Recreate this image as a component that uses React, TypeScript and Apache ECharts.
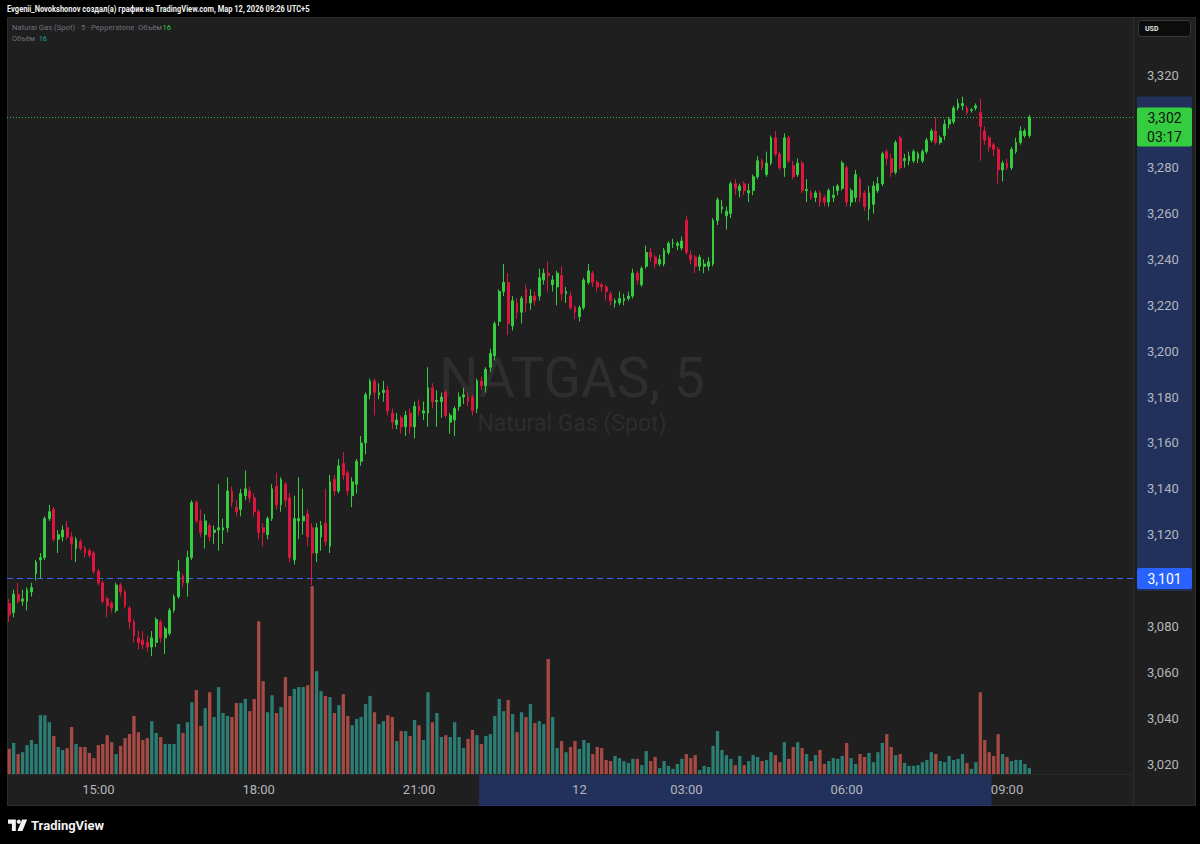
import React, { useEffect, useRef } from "react";
import * as echarts from "echarts";

// ---------------- data ----------------
const sessions: [string, number][] = [["13:20", 152], ["03:00", 101]];
const timeLabelValues = ["15:00", "18:00", "21:00", "00:00", "03:00", "06:00", "09:00"];
const dayLabels: Record<string, string> = { "00:00": "12" };
const priceTickRange = [3.02, 3.32];
const priceTickStep = 0.02;

// [open, high, low, close]
const ohlc: number[][] = [
  [3.090,3.092,3.082,3.085],[3.086,3.096,3.084,3.094],[3.094,3.099,3.090,3.091],[3.091,3.096,3.089,3.092],[3.091,3.097,3.087,3.096],
  [3.095,3.099,3.093,3.097],[3.103,3.109,3.100,3.108],[3.109,3.112,3.101,3.110],[3.110,3.128,3.109,3.127],[3.127,3.133,3.126,3.130],
  [3.131,3.132,3.117,3.118],[3.118,3.122,3.112,3.120],[3.119,3.124,3.117,3.122],[3.123,3.126,3.118,3.119],[3.119,3.121,3.109,3.116],
  [3.114,3.119,3.108,3.118],[3.117,3.118,3.113,3.114],[3.114,3.115,3.110,3.112],[3.113,3.114,3.110,3.111],[3.112,3.113,3.103,3.104],
  [3.104,3.105,3.098,3.099],[3.099,3.100,3.090,3.091],[3.092,3.093,3.084,3.089],[3.090,3.091,3.086,3.088],[3.087,3.099,3.086,3.098],
  [3.098,3.099,3.093,3.095],[3.095,3.096,3.088,3.089],[3.088,3.089,3.079,3.082],[3.082,3.083,3.073,3.076],[3.075,3.078,3.070,3.073],
  [3.074,3.078,3.070,3.072],[3.073,3.076,3.069,3.071],[3.071,3.078,3.067,3.075],[3.073,3.084,3.071,3.083],[3.082,3.083,3.073,3.075],
  [3.075,3.080,3.068,3.079],[3.077,3.088,3.076,3.087],[3.087,3.094,3.086,3.093],[3.093,3.109,3.092,3.104],[3.102,3.103,3.097,3.099],
  [3.099,3.113,3.093,3.110],[3.110,3.135,3.109,3.134],[3.134,3.135,3.125,3.126],[3.126,3.131,3.119,3.121],[3.120,3.129,3.114,3.126],
  [3.124,3.125,3.117,3.119],[3.121,3.124,3.116,3.122],[3.122,3.142,3.113,3.123],[3.122,3.127,3.116,3.123],[3.123,3.145,3.121,3.139],
  [3.139,3.141,3.132,3.134],[3.132,3.135,3.128,3.130],[3.131,3.140,3.128,3.138],[3.137,3.148,3.135,3.140],[3.139,3.141,3.134,3.136],
  [3.136,3.138,3.128,3.130],[3.130,3.131,3.118,3.121],[3.123,3.125,3.115,3.121],[3.120,3.128,3.118,3.127],[3.127,3.142,3.126,3.140],
  [3.141,3.147,3.131,3.133],[3.133,3.145,3.130,3.144],[3.142,3.143,3.132,3.135],[3.136,3.138,3.108,3.110],[3.109,3.137,3.107,3.127],
  [3.126,3.145,3.118,3.127],[3.126,3.140,3.120,3.128],[3.129,3.131,3.115,3.119],[3.123,3.125,3.098,3.112],[3.112,3.125,3.108,3.123],
  [3.119,3.126,3.113,3.124],[3.125,3.140,3.115,3.117],[3.115,3.146,3.112,3.143],[3.144,3.146,3.137,3.139],[3.139,3.153,3.138,3.150],
  [3.151,3.156,3.144,3.146],[3.147,3.148,3.137,3.139],[3.137,3.145,3.132,3.143],[3.142,3.153,3.138,3.152],[3.152,3.163,3.150,3.160],
  [3.160,3.182,3.155,3.181],[3.181,3.188,3.179,3.187],[3.187,3.188,3.172,3.182],[3.181,3.186,3.179,3.182],[3.182,3.187,3.178,3.183],
  [3.183,3.185,3.172,3.174],[3.173,3.175,3.166,3.169],[3.168,3.173,3.166,3.170],[3.171,3.172,3.164,3.167],[3.167,3.174,3.163,3.172],
  [3.173,3.175,3.164,3.167],[3.167,3.178,3.162,3.176],[3.176,3.179,3.172,3.174],[3.173,3.178,3.170,3.174],[3.173,3.193,3.167,3.184],
  [3.184,3.186,3.175,3.178],[3.178,3.183,3.167,3.1785],[3.178,3.182,3.171,3.180],[3.182,3.183,3.171,3.172],[3.169,3.173,3.164,3.172],
  [3.170,3.176,3.163,3.175],[3.176,3.182,3.174,3.180],[3.180,3.184,3.177,3.181],[3.180,3.182,3.176,3.178],[3.180,3.181,3.172,3.174],
  [3.175,3.188,3.173,3.187],[3.187,3.189,3.183,3.185],[3.185,3.193,3.182,3.192],[3.193,3.201,3.191,3.199],[3.198,3.213,3.196,3.212],
  [3.213,3.227,3.211,3.226],[3.226,3.238,3.224,3.230],[3.230,3.234,3.207,3.212],[3.211,3.224,3.209,3.222],[3.221,3.223,3.214,3.217],
  [3.217,3.224,3.212,3.223],[3.227,3.229,3.217,3.221],[3.221,3.227,3.218,3.224],[3.224,3.226,3.220,3.222],[3.224,3.236,3.222,3.232],
  [3.231,3.236,3.229,3.234],[3.234,3.239,3.226,3.233],[3.229,3.233,3.226,3.231],[3.228,3.235,3.220,3.234],[3.233,3.237,3.222,3.225],
  [3.225,3.228,3.221,3.226],[3.224,3.226,3.218,3.219],[3.219,3.220,3.214,3.217],[3.215,3.220,3.213,3.219],[3.219,3.232,3.218,3.231],
  [3.230,3.238,3.229,3.235],[3.234,3.235,3.228,3.230],[3.230,3.231,3.226,3.228],[3.229,3.230,3.226,3.228],[3.228,3.229,3.222,3.226],
  [3.225,3.226,3.220,3.222],[3.221,3.223,3.219,3.222],[3.221,3.226,3.220,3.223],[3.222,3.225,3.220,3.223],[3.223,3.226,3.222,3.224],
  [3.224,3.236,3.223,3.234],[3.234,3.235,3.229,3.231],[3.229,3.237,3.228,3.236],[3.237,3.246,3.236,3.243],[3.243,3.245,3.239,3.241],
  [3.241,3.242,3.236,3.238],[3.238,3.242,3.237,3.240],[3.238,3.245,3.237,3.244],[3.243,3.248,3.242,3.247],[3.247,3.249,3.245,3.2472],
  [3.246,3.248,3.244,3.247],[3.245,3.250,3.244,3.248],[3.257,3.259,3.242,3.243],[3.242,3.244,3.238,3.240],[3.241,3.242,3.234,3.237],
  [3.237,3.242,3.235,3.241],[3.237,3.240,3.234,3.238],[3.237,3.241,3.235,3.239],[3.238,3.258,3.237,3.257],[3.257,3.267,3.255,3.266],
  [3.262,3.266,3.260,3.263],[3.259,3.263,3.253,3.261],[3.260,3.274,3.258,3.273],[3.273,3.275,3.268,3.271],[3.270,3.273,3.267,3.272],
  [3.273,3.274,3.268,3.270],[3.269,3.273,3.265,3.270],[3.270,3.277,3.268,3.276],[3.276,3.285,3.275,3.283],[3.283,3.284,3.279,3.280],
  [3.277,3.287,3.276,3.282],[3.282,3.294,3.281,3.293],[3.293,3.296,3.285,3.286],[3.286,3.287,3.279,3.280],[3.280,3.295,3.276,3.293],
  [3.293,3.294,3.282,3.283],[3.281,3.283,3.275,3.276],[3.277,3.284,3.276,3.282],[3.282,3.283,3.269,3.270],[3.270,3.275,3.265,3.2705],
  [3.269,3.270,3.266,3.267],[3.267,3.270,3.265,3.269],[3.269,3.270,3.263,3.265],[3.267,3.268,3.263,3.265],[3.265,3.271,3.263,3.270],
  [3.267,3.272,3.265,3.268],[3.270,3.273,3.268,3.272],[3.271,3.283,3.270,3.282],[3.280,3.281,3.263,3.265],[3.265,3.271,3.263,3.270],
  [3.267,3.279,3.265,3.277],[3.275,3.276,3.265,3.267],[3.269,3.270,3.261,3.263],[3.262,3.272,3.257,3.269],[3.264,3.274,3.260,3.272],
  [3.270,3.276,3.269,3.273],[3.273,3.287,3.272,3.286],[3.287,3.288,3.281,3.284],[3.284,3.286,3.276,3.278],[3.278,3.292,3.277,3.291],
  [3.293,3.294,3.279,3.280],[3.283,3.286,3.280,3.284],[3.283,3.287,3.281,3.285],[3.283,3.288,3.282,3.287],[3.284,3.287,3.282,3.286],
  [3.283,3.288,3.282,3.287],[3.287,3.293,3.286,3.292],[3.292,3.297,3.291,3.296],[3.296,3.302,3.290,3.291],[3.291,3.294,3.290,3.293],
  [3.294,3.301,3.292,3.299],[3.299,3.302,3.297,3.301],[3.300,3.307,3.299,3.306],[3.306,3.310,3.305,3.308],[3.307,3.311,3.305,3.308],
  [3.306,3.307,3.303,3.304],[3.305,3.306,3.304,3.3052],[3.306,3.308,3.305,3.307],[3.304,3.310,3.283,3.298],[3.296,3.298,3.290,3.292],
  [3.293,3.294,3.287,3.289],[3.290,3.291,3.285,3.288],[3.288,3.289,3.273,3.279],[3.279,3.283,3.274,3.282],[3.282,3.284,3.279,3.280],
  [3.280,3.289,3.279,3.288],[3.287,3.293,3.286,3.291],[3.291,3.298,3.290,3.296],[3.294,3.297,3.293,3.296],[3.294,3.303,3.293,3.302],
];

const volume: number[] = [
  68,84,54,59,78,92,81,159,159,140,
  103,73,65,70,127,81,73,73,57,43,
  78,81,105,86,54,76,97,108,157,113,
  92,97,143,111,100,81,81,81,135,111,
  140,194,227,130,178,221,154,235,165,157,
  154,192,192,203,170,203,413,251,167,213,
  165,181,262,211,230,235,235,240,508,278,
  224,211,208,165,186,216,157,132,149,154,
  189,211,167,135,143,159,154,89,116,116,
  103,146,132,92,221,140,165,100,105,100,
  140,100,70,95,119,105,81,103,108,157,
  203,170,200,162,113,167,154,189,138,143,
  135,311,154,70,89,59,73,89,68,92,
  84,54,73,70,38,35,49,43,35,30,
  41,41,24,62,35,46,16,35,22,14,
  27,41,54,43,51,11,22,19,76,116,
  65,51,41,24,49,24,35,51,46,35,
  38,59,51,32,86,41,73,86,70,54,
  35,51,65,27,35,43,41,49,84,43,
  27,54,46,57,32,59,84,108,73,51,
  54,30,22,22,24,32,38,59,54,35,
  32,49,38,41,54,30,14,32,221,92,
  59,49,108,54,46,35,38,38,27,16,
];

const lastPrice = 3.302;
const barCountdown = "03:17";
const levelLine = 3.101;
const selectionTimes = ["22:10", "08:40"];
const selectionPrices = [3.0955, 3.311];

const headerTitle = "Evgenii_Novokshonov создал(а) график на TradingView.com, Мар 12, 2026 09:26 UTC+5";
const legendSymbol = "Natural Gas (Spot) · 5 · Pepperstone";
const volumeLabel = "Объём";
const lastVolumeText = "16";
const watermarkMain = "NATGAS, 5";
const watermarkSub = "Natural Gas (Spot)";
const currencyLabel = "USD";

// ---------------- style ----------------
const FONT = "Roboto, 'Noto Sans', sans-serif";
const UP = "#35cc3f";
const DOWN = "#dc163e";
const VOL_UP = "#2a7e74";
const VOL_DOWN = "#a64a45";
const PANE_BG = "#1f1f1f";
const AXIS_TEXT = "#b4b6bd";
const SEL = "rgba(41,98,255,0.27)";
const LEVEL_BLUE = "#3d63ff";

let logoRegistered = false;
function ensureLogo() {
  if (logoRegistered) return;
  const d = "M0 0H9V12H4.5V4.5H0Z M16.2 0H22L16.6 12H10.8Z";
  echarts.graphic.registerShape("tvlogo", echarts.graphic.extendPath(d, {}) as any);
  logoRegistered = true;
}

function buildTimes(): string[] {
  const out: string[] = [];
  for (const [start, n] of sessions) {
    const [h, m] = start.split(":").map(Number);
    for (let k = 0; k < n; k++) {
      const t = (h * 60 + m + 5 * k) % 1440;
      out.push(String(Math.floor(t / 60)).padStart(2, "0") + ":" + String(t % 60).padStart(2, "0"));
    }
  }
  return out;
}

function measure(text: string, font: string): number {
  const ctx = document.createElement("canvas").getContext("2d");
  if (!ctx) return text.length * 5;
  ctx.font = font;
  return ctx.measureText(text).width;
}

const fmtPrice = (v: number) => v.toFixed(3).replace(".", ",");
const coveredByLabel = (v: number) =>
  Math.abs(v - lastPrice) < 0.007 || Math.abs(v - levelLine) < 0.006;

export default function App() {
  const ref = useRef<HTMLDivElement>(null);

  useEffect(() => {
    if (!ref.current) return;
    ensureLogo();
    const chart = echarts.init(ref.current, undefined, { renderer: "svg" });
    const times = buildTimes();

    const candleData = ohlc.map(([o, h, l, c]) => [o, c, l, h]);
    const volData = volume.map((v, i) => ({
      value: v,
      itemStyle: { color: ohlc[i][3] >= ohlc[i][0] ? VOL_UP : VOL_DOWN },
    }));

    chart.setOption({
      animation: false,
      backgroundColor: "transparent",
      grid: [
        { left: 7, right: 66, top: 0, bottom: 34.1 },
        { left: 7, right: 66, bottom: 70, height: 250 },
      ],
      xAxis: [
        {
          type: "category", gridIndex: 0, data: times, boundaryGap: true,
          axisLine: { show: false }, axisTick: { show: false }, axisLabel: { show: false }, splitLine: { show: false },
        },
        {
          type: "category", gridIndex: 1, data: times, boundaryGap: true,
          axisLine: { show: false }, axisTick: { show: false }, splitLine: { show: false },
          axisLabel: {
            interval: (_i: number, v: string) => timeLabelValues.includes(v),
            formatter: (v: string) => dayLabels[v] ?? v,
            color: AXIS_TEXT, fontSize: 13, fontFamily: FONT, margin: 9,
          },
        },
      ],
      yAxis: [
        {
          type: "value", gridIndex: 0, position: "right", min: 3.0, max: 3.3531, interval: priceTickStep,
          axisLine: { show: false }, axisTick: { show: false }, splitLine: { show: false },
          axisLabel: {
            formatter: (v: number) =>
              v < priceTickRange[0] - 1e-6 || v > priceTickRange[1] + 1e-6 || coveredByLabel(v) ? "" : fmtPrice(v),
            color: AXIS_TEXT, fontSize: 13, fontFamily: FONT, margin: 13, align: "left",
            showMaxLabel: false,
          },
        },
        { type: "value", gridIndex: 1, min: 0, max: 676, show: false, splitLine: { show: false } },
      ],
      series: [
        {
          type: "bar", xAxisIndex: 1, yAxisIndex: 1, data: volData, barWidth: 3.3, z: 1, silent: true,
        },
        {
          type: "candlestick", xAxisIndex: 0, yAxisIndex: 0, data: candleData, barWidth: 2.4, z: 3, silent: true,
          itemStyle: { color: UP, color0: DOWN, borderColor: UP, borderColor0: DOWN, borderWidth: 1 },
        },
      ],
    });

    const px = (i: number) => chart.convertToPixel({ xAxisIndex: 1 }, i) as number;
    const py = (v: number) => chart.convertToPixel({ yAxisIndex: 0 }, v) as number;
    const band = px(1) - px(0);
    const s0 = times.indexOf(selectionTimes[0]);
    const s1 = times.indexOf(selectionTimes[1]);
    const selX0 = px(s0) - band / 2;
    const selX1 = px(s1) + band / 2;
    const selY0 = py(selectionPrices[1]);
    const selY1 = py(selectionPrices[0]);
    const lpY = Math.round(py(lastPrice)) + 0.5;
    const lvY = Math.round(py(levelLine)) + 0.5;

    const hFont = `bold 9px ${FONT}`;
    const hScale = 303 / measure(headerTitle, hFont);
    const l2Text = `${legendSymbol}  ${volumeLabel}${lastVolumeText}`;
    const l2Scale = 159 / measure(l2Text, `8px ${FONT}`);
    const l3Text = `${volumeLabel}  ${lastVolumeText}`;
    const l3Scale = 35 / measure(l3Text, `8px ${FONT}`);

    const center = { align: "center", verticalAlign: "middle", textAlign: "center", textVerticalAlign: "middle" };
    const leftMid = { align: "left", verticalAlign: "middle", textAlign: "left", textVerticalAlign: "middle" };

    chart.setOption({
      graphic: [
        { type: "rect", z: -10, silent: true, shape: { x: 7, y: 17, width: 1189, height: 789 }, style: { fill: PANE_BG } },
        { type: "rect", z: -9, silent: true, shape: { x: 7.5, y: 17.5, width: 1188, height: 788 }, style: { fill: "none", stroke: "#2c2c2c", lineWidth: 1 } },
        { type: "line", z: -9, silent: true, shape: { x1: 1133.5, y1: 17, x2: 1133.5, y2: 806 }, style: { stroke: "#2e2e2e", lineWidth: 1 } },
        { type: "line", z: -9, silent: true, shape: { x1: 7, y1: 774.5, x2: 1134, y2: 774.5 }, style: { stroke: "#2a2a2a", lineWidth: 1 } },
        { type: "rect", z: -5, silent: true, shape: { x: selX0, y: 775, width: selX1 - selX0, height: 31 }, style: { fill: SEL } },
        { type: "rect", z: -5, silent: true, shape: { x: 1137, y: selY0, width: 55, height: selY1 - selY0 }, style: { fill: SEL } },
        // watermark
        { type: "text", z: -4, silent: true, x: 572, y: 378, style: { text: watermarkMain, fill: "rgba(255,255,255,0.07)", fontSize: 55, fontFamily: FONT, ...center } },
        { type: "text", z: -4, silent: true, x: 572, y: 423, style: { text: watermarkSub, fill: "rgba(255,255,255,0.07)", fontSize: 23, fontFamily: FONT, ...center } },
        // price level lines
        { type: "line", z: 2, silent: true, shape: { x1: 7, y1: lpY, x2: 1133, y2: lpY }, style: { stroke: UP, lineWidth: 1, lineDash: [1, 2], opacity: 0.85 } },
        { type: "line", z: 2, silent: true, shape: { x1: 7, y1: lvY, x2: 1133, y2: lvY }, style: { stroke: LEVEL_BLUE, lineWidth: 1.2, lineDash: [6, 4] } },
        // price labels
        { type: "rect", z: 100, silent: true, shape: { x: 1137, y: lpY - 10, width: 55, height: 39, r: 2 }, style: { fill: UP } },
        { type: "text", z: 101, silent: true, x: 1164.5, y: lpY, style: { text: fmtPrice(lastPrice), fill: "#101010", fontSize: 14, fontFamily: FONT, ...center } },
        { type: "text", z: 101, silent: true, x: 1164.5, y: lpY + 19, style: { text: barCountdown, fill: "#101010", fontSize: 14, fontFamily: FONT, ...center } },
        { type: "rect", z: 100, silent: true, shape: { x: 1137, y: lvY - 10.5, width: 55, height: 21, r: 2 }, style: { fill: "#2962ff" } },
        { type: "text", z: 101, silent: true, x: 1164.5, y: lvY, style: { text: fmtPrice(levelLine), fill: "#ffffff", fontSize: 14, fontFamily: FONT, ...center } },
        // currency box
        { type: "rect", z: 100, silent: true, shape: { x: 1138.5, y: 20.5, width: 52, height: 16, r: 3 }, style: { fill: "#0c0c0c", stroke: "#3a3a3a", lineWidth: 1 } },
        { type: "text", z: 101, silent: true, x: 1145, y: 28.5, style: { text: currencyLabel, fill: "#e6e6e6", fontSize: 7, fontWeight: "bold", fontFamily: FONT, ...leftMid } },
        // header
        { type: "text", z: 101, silent: true, x: 7, y: 9, scaleX: hScale, style: { text: headerTitle, fill: "#f0f0f0", fontSize: 9, fontWeight: "bold", fontFamily: FONT, ...leftMid } },
        {
          type: "text", z: 101, silent: true, x: 12, y: 27, scaleX: l2Scale,
          style: {
            text: `{a|${legendSymbol}  ${volumeLabel}}{g|${lastVolumeText}}`,
            fontSize: 8, fontFamily: FONT, ...leftMid,
            rich: { a: { fill: "#6e717a", fontSize: 8, fontFamily: FONT, color: "#6e717a" }, g: { fill: UP, color: UP, fontSize: 8, fontFamily: FONT } },
          },
        },
        {
          type: "text", z: 101, silent: true, x: 12, y: 38, scaleX: l3Scale,
          style: {
            text: `{a|${volumeLabel}  }{g|${lastVolumeText}}`,
            fontSize: 8, fontFamily: FONT, ...leftMid,
            rich: { a: { fill: "#6e717a", color: "#6e717a", fontSize: 8, fontFamily: FONT }, g: { fill: "#26a69a", color: "#26a69a", fontSize: 8, fontFamily: FONT } },
          },
        },
        // footer logo
        { type: "tvlogo", z: 101, silent: true, x: 8, y: 819.5, scaleX: 0.87, scaleY: 0.95, style: { fill: "#f2f2f2" } },
        { type: "circle", z: 101, silent: true, shape: { cx: 8 + 12.4 * 0.87, cy: 819.5 + 2.2, r: 2.1 }, style: { fill: "#f2f2f2" } },
        { type: "text", z: 101, silent: true, x: 31, y: 825.5, style: { text: "TradingView", fill: "#f2f2f2", fontSize: 13, fontWeight: "bold", fontFamily: FONT, ...leftMid } },
      ],
    });

    return () => chart.dispose();
  }, []);

  return (
    <div
      ref={ref}
      style={{ position: "fixed", left: 0, top: 0, width: 1200, height: 844, background: "#000" }}
    />
  );
}
